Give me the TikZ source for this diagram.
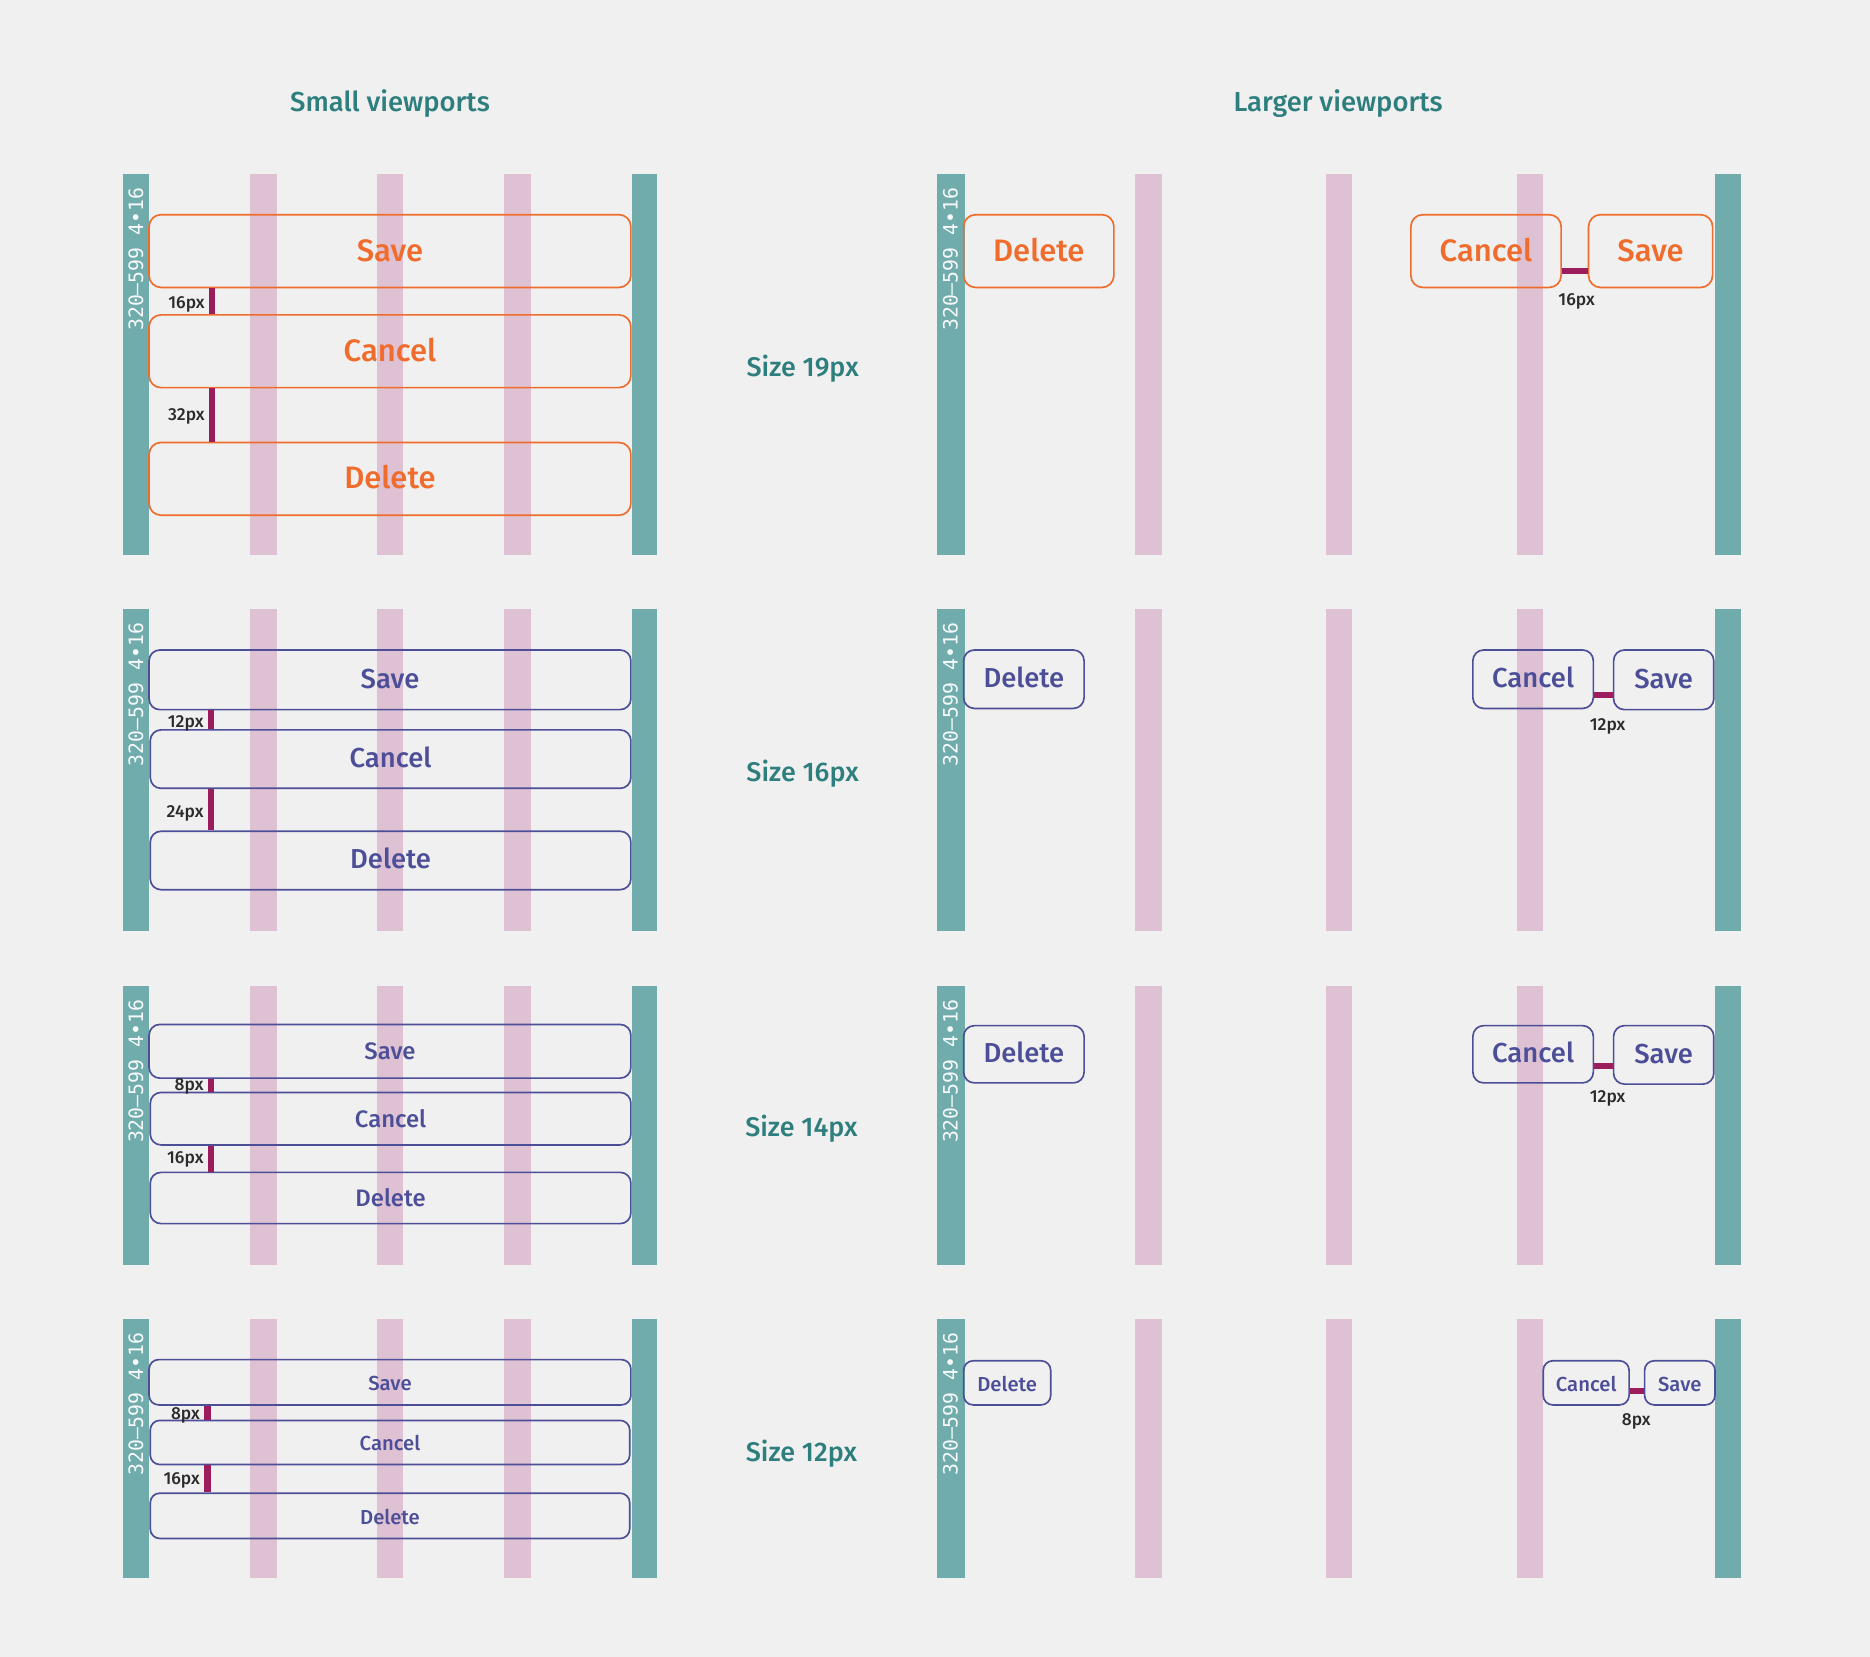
\documentclass[tikz,border=0pt]{standalone}
\usepackage{fontspec}
\setmainfont{Fira Sans}
\newfontfamily\medium{Fira Sans Medium}
\newfontfamily\gridmono{DejaVu Sans Mono}

\definecolor{bg}{HTML}{F0F0F0}
\definecolor{gridteal}{HTML}{71ACAC}
\definecolor{gridpink}{HTML}{DFC1D4}
\definecolor{btnorange}{HTML}{EF6C2C}
\definecolor{btnpurple}{HTML}{4C4F98}
\definecolor{gapcol}{HTML}{9B1D5E}
\definecolor{heading}{HTML}{2E7E7E}
\definecolor{note}{HTML}{2B2B2B}

\tikzset{
  btn/.style={draw, line width=0.7pt, inner sep=0pt, text height=0.7em, text depth=0pt},
  btnL/.style={btn, rounded corners=5pt, draw=btnorange, text=btnorange, text height=0.85em, font=\medium\fontsize{13}{13}\selectfont},
  btnM/.style={btn, rounded corners=4.5pt, draw=btnpurple, text=btnpurple, font=\medium\fontsize{11.5}{11.5}\selectfont},
  btnS/.style={btn, rounded corners=4.5pt, draw=btnpurple, text=btnpurple, font=\medium\fontsize{10}{10}\selectfont},
  btnXS/.style={btn, rounded corners=4pt, draw=btnpurple, text=btnpurple, font=\medium\fontsize{8.5}{8.5}\selectfont},
  gapbar/.style={draw=gapcol, line width=2.6pt},
  gaplabel/.style={text=note, inner sep=0pt, yshift=-1pt, font=\medium\fontsize{7.3}{7.3}\selectfont},
  heading/.style={text=heading, yshift=-1pt, font=\medium\fontsize{11.5}{11.5}\selectfont},
  sizelabel/.style={text=heading, yshift=-1pt, font=\medium\fontsize{11.3}{11.3}\selectfont},
  colspec/.style={rotate=90, anchor=east, inner sep=0pt, text=white!93!gridteal, font=\gridmono\fontsize{8.3}{8.3}\selectfont},
}

% a button given by its corners: style, name, x1, y1, x2, y2, label
\newcommand\button[7]{%
  \node[#1, minimum width={(#5-#3)*0.5pt}, minimum height={(#6-#4)*0.5pt}]
    (#2) at ({(#3+#5)/2},{(#4+#6)/2}) {#7};}

% the column grid of one row of both panels: name, top, bottom
\newcommand\gridrow[3]{%
  \fill[gridteal] (103,#2) rectangle (125,#3);
  \foreach \c in {210,316,423} \fill[gridpink] (\c,#2) rectangle (\c+22,#3);
  \fill[gridteal] (530,#2) rectangle (551,#3);
  \node[colspec] (#1-a) at (114,#2+11) {320–599 4•16};
  \fill[gridteal] (786,#2) rectangle (809,#3);
  \foreach \c in {952,1112,1272} \fill[gridpink] (\c,#2) rectangle (\c+22,#3);
  \fill[gridteal] (1438,#2) rectangle (1460,#3);
  \node[colspec] (#1-b) at (797,#2+11) {320–599 4•16};}

\begin{document}
\begin{tikzpicture}[x=0.5pt,y=-0.5pt]
\fill[bg] (0,0) rectangle (1568,1389);
\useasboundingbox (0,0) rectangle (1568,1389);

\node[heading] (hsmall) at (327,85) {Small viewports};
\node[heading] (hlarge) at (1122,85) {Larger viewports};

% ---------- size 19px ----------
\gridrow{r1}{146}{465}
\button{btnL}{a1save}{125}{180}{529}{241}{Save}
\button{btnL}{a1cancel}{125}{264}{529}{325}{Cancel}
\button{btnL}{a1delete}{125}{371}{529}{432}{Delete}
\coordinate (a1x) at (178,0);
\draw[gapbar] (a1save.south -| a1x) -- (a1cancel.north -| a1x);
\draw[gapbar] (a1cancel.south -| a1x) -- (a1delete.north -| a1x);
\node[gaplabel, anchor=east] (a1g1) at (172,253) {16px};
\node[gaplabel, anchor=east] (a1g2) at (172,347) {32px};
\node[sizelabel] (sz1) at (673,307) {Size 19px};
\button{btnL}{b1delete}{808}{180}{934}{241}{Delete}
\button{btnL}{b1cancel}{1183}{180}{1309}{241}{Cancel}
\button{btnL}{b1save}{1332}{180}{1436}{241}{Save}
\coordinate (b1y) at (0,227);
\draw[gapbar] (b1cancel.east |- b1y) -- (b1save.west |- b1y);
\node[gaplabel] (b1g) at (1322,251) {16px};

% ---------- size 16px ----------
\gridrow{r2}{511}{781}
\button{btnM}{a2save}{125}{545}{529}{595}{Save}
\button{btnM}{a2cancel}{126}{612}{529}{661}{Cancel}
\button{btnM}{a2delete}{126}{697}{529}{746}{Delete}
\coordinate (a2x) at (177,0);
\draw[gapbar] (a2save.south -| a2x) -- (a2cancel.north -| a2x);
\draw[gapbar] (a2cancel.south -| a2x) -- (a2delete.north -| a2x);
\node[gaplabel, anchor=east] (a2g1) at (171,605) {12px};
\node[gaplabel, anchor=east] (a2g2) at (171,680) {24px};
\node[sizelabel] (sz2) at (673,647) {Size 16px};
\button{btnM}{b2delete}{808}{545}{909}{594}{Delete}
\button{btnM}{b2cancel}{1235}{545}{1336}{594}{Cancel}
\button{btnM}{b2save}{1353}{545}{1437}{595}{Save}
\coordinate (b2y) at (0,583);
\draw[gapbar] (b2cancel.east |- b2y) -- (b2save.west |- b2y);
\node[gaplabel] (b2g) at (1348,607) {12px};

% ---------- size 14px ----------
\gridrow{r3}{827}{1061}
\button{btnS}{a3save}{125}{859}{529}{904}{Save}
\button{btnS}{a3cancel}{126}{916}{529}{960}{Cancel}
\button{btnS}{a3delete}{126}{983}{529}{1026}{Delete}
\coordinate (a3x) at (177,0);
\draw[gapbar] (a3save.south -| a3x) -- (a3cancel.north -| a3x);
\draw[gapbar] (a3cancel.south -| a3x) -- (a3delete.north -| a3x);
\node[gaplabel, anchor=east] (a3g1) at (171,909) {8px};
\node[gaplabel, anchor=east] (a3g2) at (171,970) {16px};
\node[sizelabel] (sz3) at (672,944) {Size 14px};
\button{btnM}{b3delete}{808}{860}{909}{908}{Delete}
\button{btnM}{b3cancel}{1235}{860}{1336}{908}{Cancel}
\button{btnM}{b3save}{1353}{860}{1437}{909}{Save}
\coordinate (b3y) at (0,894);
\draw[gapbar] (b3cancel.east |- b3y) -- (b3save.west |- b3y);
\node[gaplabel] (b3g) at (1348,919) {12px};

% ---------- size 12px ----------
\gridrow{r4}{1106}{1323}
\button{btnXS}{a4save}{125}{1140}{529}{1178}{Save}
\button{btnXS}{a4cancel}{126}{1191}{528}{1228}{Cancel}
\button{btnXS}{a4delete}{126}{1252}{528}{1290}{Delete}
\coordinate (a4x) at (174,0);
\draw[gapbar] (a4save.south -| a4x) -- (a4cancel.north -| a4x);
\draw[gapbar] (a4cancel.south -| a4x) -- (a4delete.north -| a4x);
\node[gaplabel, anchor=east] (a4g1) at (168,1185) {8px};
\node[gaplabel, anchor=east] (a4g2) at (168,1239) {16px};
\node[sizelabel] (sz4) at (672,1217) {Size 12px};
\button{btnXS}{b4delete}{808}{1141}{881}{1178}{Delete}
\button{btnXS}{b4cancel}{1294}{1141}{1366}{1178}{Cancel}
\button{btnXS}{b4save}{1379}{1141}{1438}{1178}{Save}
\coordinate (b4y) at (0,1166);
\draw[gapbar] (b4cancel.east |- b4y) -- (b4save.west |- b4y);
\node[gaplabel] (b4g) at (1372,1190) {8px};
\end{tikzpicture}
\end{document}
